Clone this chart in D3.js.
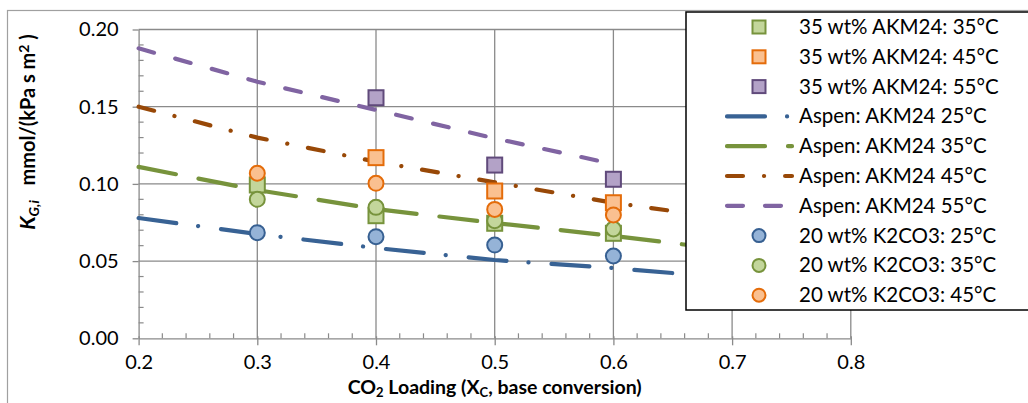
<!DOCTYPE html>
<html><head><meta charset="utf-8">
<script src="https://cdn.jsdelivr.net/npm/d3@7"></script>
<style>
html,body{margin:0;padding:0;background:#fff;}
svg{display:block;font-family:Lato, "Liberation Sans", sans-serif;}
</style></head>
<body><svg id="c" width="1028" height="403"></svg>
<script>
// ---------- data ----------
const xTickVals = [0.2, 0.3, 0.4, 0.5, 0.6, 0.7, 0.8];
const yTickVals = [0.00, 0.05, 0.10, 0.15, 0.20];

const aspenX   = [0.2, 0.3, 0.4, 0.5, 0.6, 0.7];
const aspen25  = [0.0779, 0.0675, 0.0585, 0.0507, 0.0455, 0.0390];
const aspen35  = [0.1110, 0.0960, 0.0837, 0.0747, 0.0663, 0.0570];
const aspen45  = [0.1500, 0.1300, 0.1144, 0.1010, 0.0878, 0.0770];
const aspen55X = [0.2, 0.3, 0.4, 0.5, 0.6];
const aspen55  = [0.1878, 0.1662, 0.1479, 0.1295, 0.1129];

const akm35X = [0.3, 0.4, 0.5, 0.6];
const akm35  = [0.0993, 0.0794, 0.0745, 0.0680];
const akm45X = [0.4, 0.5, 0.6];
const akm45  = [0.1170, 0.0954, 0.0878];
const akm55X = [0.4, 0.5, 0.6];
const akm55  = [0.1558, 0.1122, 0.1030];

const k2co3X  = [0.3, 0.4, 0.5, 0.6];
const k2co325 = [0.0684, 0.0658, 0.0604, 0.0533];
const k2co335 = [0.0900, 0.0848, 0.0762, 0.0708];
const k2co345 = [0.1069, 0.1004, 0.0835, 0.0799];

const legendLabels = [
  "35 wt% AKM24: 35°C", "35 wt% AKM24: 45°C", "35 wt% AKM24: 55°C",
  "Aspen: AKM24 25°C", "Aspen: AKM24 35°C", "Aspen: AKM24 45°C", "Aspen: AKM24 55°C",
  "20 wt% K2CO3: 25°C", "20 wt% K2CO3: 35°C", "20 wt% K2CO3: 45°C"
];

// ---------- styles ----------
const lineStyles = {
  a25: {color:"#386294", dash:"38 22 0.1 23"},
  a35: {color:"#77933C", dash:"38 23"},
  a45: {color:"#984807", dash:"16 21 0.1 21"},
  a55: {color:"#8064A2", dash:"16 22"}
};
const sqStyles = {
  s35: {fill:"#C3D69B", stroke:"#77933C"},
  s45: {fill:"#FAC090", stroke:"#E46C0A"},
  s55: {fill:"#B3A2C7", stroke:"#604A7B"}
};
const cStyles = {
  c25: {fill:"#95B3D7", stroke:"#376092"},
  c35: {fill:"#C3D69B", stroke:"#77933C"},
  c45: {fill:"#FAC090", stroke:"#E46C0A"}
};

const svg = d3.select("#c");
const x = d3.scaleLinear().domain([0.2, 0.8]).range([138.6, 850.8]);
const y = d3.scaleLinear().domain([0, 0.2]).range([338.3, 29.5]);
const gridCol = "#8a8a8a";

// chart outer border
svg.append("rect").attr("x",7.5).attr("y",10.5).attr("width",1100).attr("height",500)
  .attr("fill","none").attr("stroke","#a0a0a0").attr("stroke-width",1.2);

// gridlines
const g = svg.append("g");
g.selectAll(".hg").data(yTickVals.filter(d=>d>0)).enter().append("line")
  .attr("x1",x(0.2)).attr("x2",x(0.8)).attr("y1",d=>y(d)).attr("y2",d=>y(d))
  .attr("stroke",gridCol).attr("stroke-width",1.3);
g.selectAll(".vg").data(xTickVals.filter(d=>d>0.2)).enter().append("line")
  .attr("y1",y(0)).attr("y2",y(0.2)).attr("x1",d=>x(d)).attr("x2",d=>x(d))
  .attr("stroke",gridCol).attr("stroke-width",1.3);

// minor ticks
const xMinor = d3.range(0.22, 0.8, 0.02).filter(v => Math.abs(v*10 - Math.round(v*10)) > 0.01);
g.selectAll(".xm").data(xMinor).enter().append("line")
  .attr("x1",d=>x(d)).attr("x2",d=>x(d)).attr("y1",y(0)).attr("y2",y(0)-5)
  .attr("stroke",gridCol).attr("stroke-width",1.2);
const yMinor = d3.range(0.01, 0.2, 0.01).filter(v => Math.abs(v*20 - Math.round(v*20)) > 0.01);
g.selectAll(".ym").data(yMinor).enter().append("line")
  .attr("x1",x(0.2)).attr("x2",x(0.2)+5).attr("y1",d=>y(d)).attr("y2",d=>y(d))
  .attr("stroke",gridCol).attr("stroke-width",1.2);

// axes
const xAxis = d3.axisBottom(x).tickValues(xTickVals).tickFormat(d3.format(".1f")).tickSizeInner(7).tickSizeOuter(0).tickPadding(10);
const yAxis = d3.axisLeft(y).tickValues(yTickVals).tickFormat(d3.format(".2f")).tickSizeInner(6).tickSizeOuter(0).tickPadding(14);
const gx = svg.append("g").attr("transform",`translate(0,${y(0)})`).call(xAxis);
const gy = svg.append("g").attr("transform",`translate(${x(0.2)},0)`).call(yAxis);
[gx,gy].forEach(a=>{
  a.select(".domain").attr("stroke",gridCol).attr("stroke-width",1.3);
  a.selectAll(".tick line").attr("stroke",gridCol).attr("stroke-width",1.3);
  a.selectAll("text").attr("fill","#000").style("font-size","20px").style("font-family","Lato");
});
gx.selectAll(".tick line").attr("y1",-2);

// Aspen lines
const lineGen = d3.line().x(d=>x(d[0])).y(d=>y(d[1]));
function drawLine(xs, ys, st){
  svg.append("path").datum(xs.map((v,i)=>[v, ys[i]]))
    .attr("d", lineGen).attr("fill","none").attr("stroke",st.color)
    .attr("stroke-width",4.2).attr("stroke-linecap","round").attr("stroke-dasharray",st.dash);
}
drawLine(aspenX, aspen25, lineStyles.a25);
drawLine(aspenX, aspen35, lineStyles.a35);
drawLine(aspenX, aspen45, lineStyles.a45);
drawLine(aspen55X, aspen55, lineStyles.a55);

// squares
function drawSquares(xs, ys, st){
  svg.append("g").selectAll("rect").data(xs.map((v,i)=>[v, ys[i]])).enter().append("rect")
    .attr("x",d=>x(d[0])-7.5).attr("y",d=>y(d[1])-7.5).attr("width",15).attr("height",15)
    .attr("fill",st.fill).attr("stroke",st.stroke).attr("stroke-width",2);
}
drawSquares(akm35X, akm35, sqStyles.s35);
drawSquares(akm45X, akm45, sqStyles.s45);
drawSquares(akm55X, akm55, sqStyles.s55);

// circles
function drawCircles(xs, ys, st){
  svg.append("g").selectAll("circle").data(xs.map((v,i)=>[v, ys[i]])).enter().append("circle")
    .attr("cx",d=>x(d[0])).attr("cy",d=>y(d[1])).attr("r",7.5)
    .attr("fill",st.fill).attr("stroke",st.stroke).attr("stroke-width",2);
}
drawCircles(k2co3X, k2co325, cStyles.c25);
drawCircles(k2co3X, k2co335, cStyles.c35);
drawCircles(k2co3X, k2co345, cStyles.c45);

// axis titles
const xt = svg.append("text").attr("x",(x(0.2)+x(0.8))/2).attr("y",394).attr("text-anchor","middle")
  .style("font-size","19.5px").style("font-weight","bold").style("font-family","Lato").attr("fill","#000");
xt.append("tspan").text("CO");
xt.append("tspan").text("2").attr("baseline-shift","-25%").style("font-size","13px");
xt.append("tspan").text(" Loading (X");
xt.append("tspan").text("C").attr("baseline-shift","-25%").style("font-size","13px");
xt.append("tspan").text(", base conversion)");

const yt = svg.append("text").attr("transform","translate(35,132) rotate(-90)").attr("text-anchor","middle")
  .style("font-size","20px").style("font-weight","bold").style("font-family","Lato").attr("fill","#000");
yt.append("tspan").text("K").style("font-style","italic").style("font-size","21px");
yt.append("tspan").text("G,i").style("font-style","italic").attr("baseline-shift","-25%").style("font-size","14px");
yt.append("tspan").text("\u00a0\u00a0\u00a0mmol/(kPa s m");
yt.append("tspan").text("2").attr("baseline-shift","40%").style("font-size","14px");
yt.append("tspan").text(" )");

// legend
const lg = svg.append("g");
lg.append("rect").attr("x",686).attr("y",12).attr("width",400).attr("height",298)
  .attr("fill","#fff").attr("stroke","#000").attr("stroke-width",1.5);
const rowY = i => 27 + i*29.8;
const mk = 759;
const legendKinds = [
  {t:"sq", st:sqStyles.s35}, {t:"sq", st:sqStyles.s45}, {t:"sq", st:sqStyles.s55},
  {t:"ln", st:lineStyles.a25}, {t:"ln", st:lineStyles.a35}, {t:"ln", st:lineStyles.a45}, {t:"ln", st:lineStyles.a55},
  {t:"c", st:cStyles.c25}, {t:"c", st:cStyles.c35}, {t:"c", st:cStyles.c45}
];
legendLabels.forEach((lab,i)=>{
  const k = legendKinds[i], cy = rowY(i);
  if (k.t==="sq") {
    lg.append("rect").attr("x",mk-6.5).attr("y",cy-6.5).attr("width",13).attr("height",13)
      .attr("fill",k.st.fill).attr("stroke",k.st.stroke).attr("stroke-width",2);
  } else if (k.t==="c") {
    lg.append("circle").attr("cx",mk).attr("cy",cy).attr("r",6.5)
      .attr("fill",k.st.fill).attr("stroke",k.st.stroke).attr("stroke-width",2);
  } else {
    lg.append("line").attr("x1",727).attr("x2",792).attr("y1",cy).attr("y2",cy)
      .attr("stroke",k.st.color).attr("stroke-width",4.2).attr("stroke-linecap","round")
      .attr("stroke-dasharray",k.st.dash);
  }
  lg.append("text").attr("x",799).attr("y",cy+7).text(lab)
    .style("font-size","20.5px").style("font-family","Lato").attr("fill","#000");
});
</script>
</body></html>
